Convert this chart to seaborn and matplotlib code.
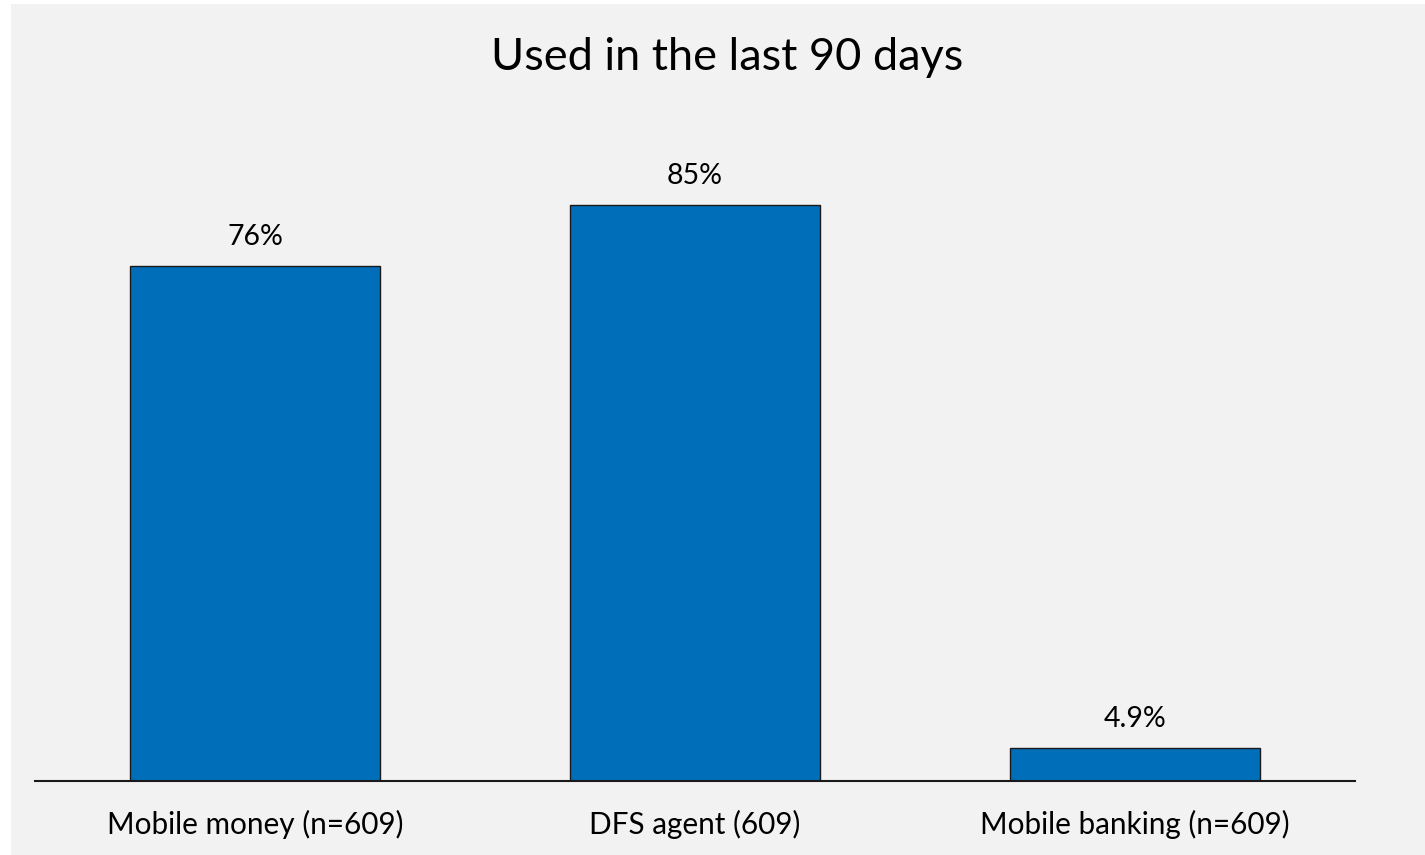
import matplotlib
matplotlib.use("Agg")
import matplotlib.pyplot as plt
import seaborn as sns
import pandas as pd
from matplotlib.patches import Rectangle

categories = ["Mobile money (n=609)", "DFS agent (609)", "Mobile banking (n=609)"]
values = [76, 85, 4.9]
value_labels = ["76%", "85%", "4.9%"]
title = "Used in the last 90 days"

sns.set_theme(style="white")
plt.rcParams['font.family'] = ['Lato', 'DejaVu Sans']

W, H = 1425, 855
fig = plt.figure(figsize=(W / 100, H / 100), dpi=100, facecolor="white")
fig.patches.append(Rectangle((11 / W, 0), 1 - 11 / W, 1 - 4 / H, transform=fig.transFigure,
                             facecolor="#F2F2F2", edgecolor="none", zorder=-10))

ax = fig.add_axes([35 / W, 1 - 781 / H, 1320 / W, 677.6 / H])
ax.set_zorder(2)
ax.set_facecolor("none")

df = pd.DataFrame({"cat": categories, "val": values})
sns.barplot(data=df, x="cat", y="val", color="#006EB8", width=0.57, saturation=1,
            edgecolor="#1a1a1a", linewidth=1.0, ax=ax)

ax.set_xlim(-0.5, 2.5)
ax.set_ylim(0, 100)
for s in ["top", "right", "left"]:
    ax.spines[s].set_visible(False)
ax.spines["bottom"].set_color("#1a1a1a")
ax.spines["bottom"].set_linewidth(1.5)
ax.set_yticks([])
ax.set_xlabel("")
ax.set_ylabel("")
ax.tick_params(axis="x", length=0, pad=21, labelsize=21.4, labelcolor="black")

for i, (v, lab) in enumerate(zip(values, value_labels)):
    ax.annotate(lab, (i, v), xytext=(0, 21), textcoords="offset points",
                ha="center", va="center", fontsize=20.5, color="black")

fig.text(727 / W, 1 - 57 / H, title, ha="center", va="center", fontsize=32.5, color="black",
         zorder=5)

fig.savefig("out.png", dpi=100, facecolor=fig.get_facecolor())
